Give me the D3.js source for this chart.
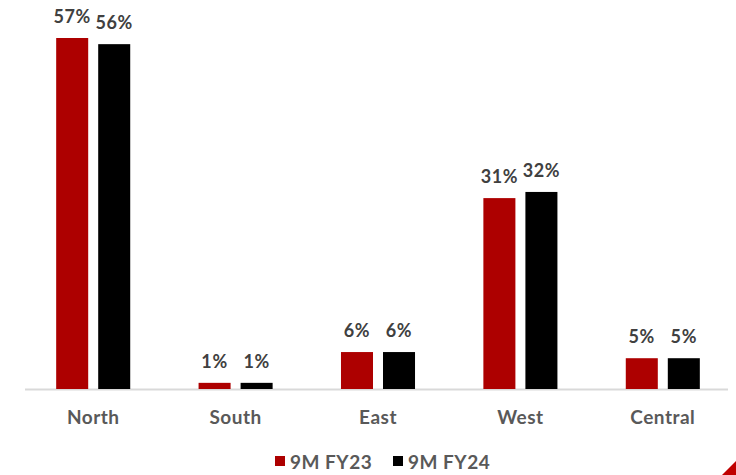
<!DOCTYPE html>
<html>
<head>
<meta charset="utf-8">
<script src="https://cdn.jsdelivr.net/npm/d3@7"></script>
<style>
	html, body { margin:0; padding:0; background:#fff; }
	svg { display:block; }
	text { font-family: 'Lato', 'Open Sans', sans-serif; font-weight:bold; }
</style>
</head>
<body>
<div id="chart"></div>
<script>
var regions = ['North', 'South', 'East', 'West', 'Central'];
var seriesNames = ['9M FY23', '9M FY24'];
var fy23 = [57, 1, 6, 31, 5];
var fy24 = [56, 1, 6, 32, 5];
var colors = ['#ad0000', '#000000'];

var width = 736, height = 475
	, baseY = 389;

var svg = d3.select('#chart')
	.append('svg')
	.attr('width', width)
	.attr('height', height);

var x0 = d3.scaleBand()
	.domain(regions)
	.range([22, 734])
	.paddingInner(0.48)
	.paddingOuter(0.24);

var x1 = d3.scaleBand()
	.domain(seriesNames)
	.range([0, x0.bandwidth()])
	.paddingInner(0.238);

var y = d3.scaleLinear()
	.domain([0, 57])
	.range([baseY, 38]);

var rows = regions.map(function(r, i){
	return { region: r, values: [
		{ name: seriesNames[0], v: fy23[i], c: colors[0] },
		{ name: seriesNames[1], v: fy24[i], c: colors[1] }
	]};
});

// axis line
svg.append('line')
	.attr('x1', 25)
	.attr('x2', 728)
	.attr('y1', baseY + 0.5)
	.attr('y2', baseY + 0.5)
	.attr('stroke', '#d9d9d9')
	.attr('stroke-width', 2);

var groups = svg.selectAll('g.grp')
	.data(rows)
	.enter()
	.append('g')
	.attr('class', 'grp')
	.attr('transform', function(d){ return 'translate(' + x0(d.region) + ',0)'; });

groups.selectAll('rect')
	.data(function(d){ return d.values; })
	.enter()
	.append('rect')
	.attr('x', function(d){ return x1(d.name); })
	.attr('width', x1.bandwidth())
	.attr('y', function(d){ return y(d.v); })
	.attr('height', function(d){ return baseY - y(d.v); })
	.attr('fill', function(d){ return d.c; });

groups.selectAll('text.lbl')
	.data(function(d){ return d.values; })
	.enter()
	.append('text')
	.attr('class', 'lbl')
	.attr('x', function(d){ return x1(d.name) + x1.bandwidth()/2; })
	.attr('y', function(d){ return y(d.v) - 15; })
	.attr('text-anchor', 'middle')
	.attr('font-size', 18)
	.attr('letter-spacing', 0.6)
	.attr('fill', '#404040')
	.text(function(d){ return d.v + '%'; });

// category labels
svg.selectAll('text.cat')
	.data(regions)
	.enter()
	.append('text')
	.attr('class', 'cat')
	.attr('x', function(d){ return x0(d) + x0.bandwidth()/2; })
	.attr('y', 424)
	.attr('text-anchor', 'middle')
	.attr('font-size', 19)
	.attr('letter-spacing', 0.5)
	.attr('fill', '#595959')
	.text(function(d){ return d; });

// legend
var legendX = [275, 393];
var legend = svg.selectAll('g.leg')
	.data(seriesNames)
	.enter()
	.append('g')
	.attr('class', 'leg')
	.attr('transform', function(d, i){ return 'translate(' + legendX[i] + ',0)'; });
legend.append('rect')
	.attr('x', 0)
	.attr('y', 456)
	.attr('width', 10)
	.attr('height', 10)
	.attr('fill', function(d, i){ return colors[i]; });
legend.append('text')
	.attr('x', 15)
	.attr('y', 469)
	.attr('font-size', 19)
	.attr('letter-spacing', 0.5)
	.attr('fill', '#595959')
	.text(function(d){ return d; });

// corner decoration
svg.append('path')
	.attr('d', 'M722,475 L736,461 L736,475 Z')
	.attr('fill', '#c00000');
</script>
</body>
</html>
